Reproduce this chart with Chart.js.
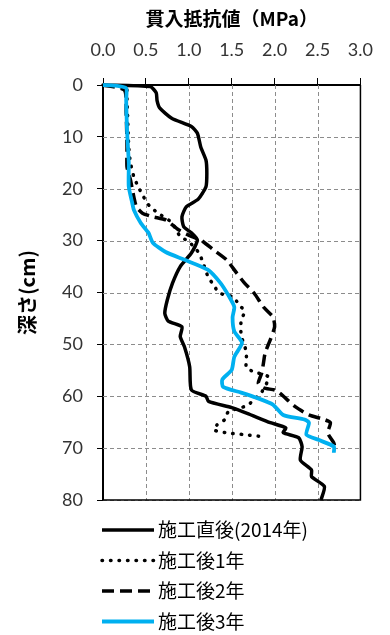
<!DOCTYPE html>
<html>
<head>
<meta charset="utf-8">
<script src="https://cdn.jsdelivr.net/npm/chart.js@4"></script>
<style>
  html, body { margin: 0; padding: 0; background: #fff; }
  canvas { display: block; }
</style>
</head>
<body>
<canvas id="chart" width="390" height="635"></canvas>
<script>
// 施工直後(2014年)
const depth0 = [0, 0.3, 1.5, 3, 4.4, 6.4, 8, 9.3, 12, 14.5, 17, 19.6, 22, 23.5, 25.4, 27.3, 28.5, 29.9, 32.4, 35, 38.2, 41.4, 44, 45.5, 46.6, 48.5, 50.5, 54.3, 58.8, 60, 61, 62.2, 63.3, 65.1, 66.1, 67, 68, 69.7, 72.3, 74.2, 75.5, 77.4, 80];
const mpa0 = [0, 0.55, 0.62, 0.63, 0.66, 0.8, 1.03, 1.1, 1.14, 1.2, 1.21, 1.2, 1.11, 0.97, 0.92, 0.94, 1.03, 1.1, 1.03, 0.9, 0.81, 0.75, 0.72, 0.76, 0.92, 0.9, 0.95, 1.01, 1.03, 1.2, 1.23, 1.5, 1.68, 1.95, 2.13, 2.1, 2.28, 2.32, 2.3, 2.43, 2.43, 2.58, 2.54];

// 施工後1年
const depth1 = [0, 0.6, 2.9, 12, 15, 17.7, 19.6, 21.5, 23.5, 25, 26.5, 29.2, 30.2, 32.4, 34, 37.2, 38.5, 39.9, 40.5, 40.8, 42.4, 43.7, 45.3, 48.2, 51.4, 53, 54.5, 55.3, 56.3, 59.2, 60.5, 61.8, 63, 64.5, 65.5, 66.5, 67.1, 67.4, 67.8];
const mpa1 = [0, 0.27, 0.28, 0.3, 0.32, 0.36, 0.41, 0.47, 0.55, 0.67, 0.8, 0.9, 1.0, 1.12, 1.16, 1.23, 1.29, 1.34, 1.42, 1.51, 1.59, 1.65, 1.61, 1.61, 1.67, 1.67, 1.67, 1.76, 1.93, 1.85, 1.77, 1.68, 1.46, 1.42, 1.33, 1.29, 1.46, 1.65, 1.87];

// 施工後2年
const depth2 = [0, 1, 5.4, 12, 15.8, 18.3, 21.6, 23.5, 24.7, 25.4, 26, 27.9, 29.2, 29.9, 31.8, 33.7, 36.3, 38.2, 40.1, 42.8, 44.7, 46.6, 49.1, 51.6, 53.6, 55.5, 57.5, 58.4, 58.8, 59.4, 62, 63.6, 64.5, 65.1, 67.1, 69, 69.7];
const mpa2 = [0, 0.25, 0.27, 0.28, 0.28, 0.32, 0.36, 0.39, 0.46, 0.58, 0.73, 0.88, 1.03, 1.14, 1.29, 1.44, 1.56, 1.65, 1.76, 1.87, 1.98, 2.0, 1.95, 1.89, 1.87, 1.85, 1.81, 1.87, 2.0, 2.06, 2.24, 2.4, 2.58, 2.65, 2.62, 2.69, 2.7];

// 施工後3年
const depth3 = [0, 0.1, 0.6, 2.9, 8.7, 15, 19.6, 22.7, 24.1, 26.6, 28.5, 30.4, 32.2, 33.7, 35.6, 38.2, 40.8, 42.8, 44.8, 47.5, 49.7, 52.4, 54.9, 56.8, 58.2, 59.3, 60.3, 61.6, 63.6, 64.5, 65.1, 67.4, 68.4, 69.7, 70.9];
const mpa3 = [0, 0.13, 0.27, 0.27, 0.28, 0.3, 0.3, 0.34, 0.36, 0.44, 0.53, 0.58, 0.73, 0.95, 1.22, 1.37, 1.47, 1.53, 1.51, 1.53, 1.62, 1.53, 1.5, 1.39, 1.4, 1.61, 1.79, 1.98, 2.1, 2.35, 2.4, 2.37, 2.51, 2.69, 2.69];

const seriesNames = ["施工直後(2014年)", "施工後1年", "施工後2年", "施工後3年"];

const pts = (xs, ys) => xs.map((x, i) => ({ x: x, y: ys[i] }));

const CJK = "'Noto Sans CJK JP', 'Noto Sans', sans-serif";

// dashed grey grid, placed from the scales' own ticks
const gridPlugin = {
  id: "dashgrid",
  beforeDatasetsDraw(chart) {
    const { ctx, chartArea: a, scales } = chart;
    ctx.save();
    ctx.strokeStyle = "#8c8c8c";
    ctx.lineWidth = 1;
    ctx.setLineDash([4, 3]);
    scales.x.ticks.forEach((t) => {
      const px = Math.round(scales.x.getPixelForValue(t.value)) + 0.5;
      if (px < a.left + 2) return;
      ctx.beginPath();
      ctx.moveTo(px, a.top);
      ctx.lineTo(px, a.bottom);
      ctx.stroke();
    });
    scales.y.ticks.forEach((t) => {
      const py = Math.round(scales.y.getPixelForValue(t.value)) + 0.5;
      if (py < a.top + 2) return;
      ctx.beginPath();
      ctx.moveTo(a.left, py);
      ctx.lineTo(a.right, py);
      ctx.stroke();
    });
    ctx.restore();
  },
};

// frame round the plot area
const framePlugin = {
  id: "frame",
  afterDraw(chart) {
    const { ctx, chartArea: a } = chart;
    ctx.save();
    ctx.strokeStyle = "#000";
    ctx.lineWidth = 1.5;
    ctx.beginPath();
    ctx.moveTo(a.right, a.top);
    ctx.lineTo(a.right, a.bottom);
    ctx.lineTo(a.left, a.bottom);
    ctx.stroke();
    ctx.restore();
  },
};

// vertical legend under the chart
const legendPlugin = {
  id: "vlegend",
  afterDraw(chart) {
    const ctx = chart.ctx;
    ctx.save();
    chart.data.datasets.forEach((ds, i) => {
      const y = 530 + i * 30.5;
      ctx.strokeStyle = ds.borderColor;
      ctx.lineWidth = ds.borderWidth;
      ctx.lineCap = ds.borderCapStyle || "butt";
      ctx.setLineDash(ds.borderDash || []);
      ctx.beginPath();
      ctx.moveTo(102, y);
      ctx.lineTo(154, y);
      ctx.stroke();
      ctx.setLineDash([]);
      ctx.fillStyle = "#000";
      ctx.font = "19px " + CJK;
      ctx.textBaseline = "middle";
      ctx.fillText(ds.label, 158, y);
    });
    ctx.restore();
  },
};

const gridOpts = (len) => ({
  display: true,
  drawOnChartArea: false,
  tickColor: "#000",
  tickLength: len,
  tickWidth: 1,
});

new Chart(document.getElementById("chart"), {
  type: "scatter",
  data: {
    datasets: [
      {
        label: seriesNames[0],
        data: pts(mpa0, depth0),
        borderColor: "#000",
        borderWidth: 3.5,
        order: 4,
      },
      {
        label: seriesNames[1],
        data: pts(mpa1, depth1),
        borderColor: "#000",
        borderWidth: 3.5,
        borderDash: [0.5, 8],
        borderCapStyle: "round",
        order: 3,
      },
      {
        label: seriesNames[2],
        data: pts(mpa2, depth2),
        borderColor: "#000",
        borderWidth: 3.5,
        borderDash: [12, 6],
        order: 2,
      },
      {
        label: seriesNames[3],
        data: pts(mpa3, depth3),
        borderColor: "#00B0F0",
        borderWidth: 3.8,
        order: 1,
      },
    ].map((d) => Object.assign({ showLine: true, pointRadius: 0, tension: 0.2, clip: 4, fill: false }, d)),
  },
  options: {
    responsive: false,
    animation: false,
    devicePixelRatio: 1,
    layout: { padding: { left: 0, top: 0, right: 19, bottom: 135 } },
    plugins: {
      legend: { display: false },
      tooltip: { enabled: false },
    },
    scales: {
      x: {
        type: "linear",
        position: "top",
        min: 0,
        max: 3,
        afterFit: (s) => { s.height = 85; },
        ticks: {
          stepSize: 0.5,
          callback: (v) => v.toFixed(1),
          font: { family: "Lato", size: 18 },
          color: "#333",
          padding: 17,
          maxRotation: 0,
        },
        grid: gridOpts(7),
        border: { display: true, color: "#000", width: 2 },
        title: {
          display: true,
          text: "貫入抵抗値（MPa）",
          font: { family: CJK, size: 19, weight: "bold" },
          color: "#000",
          padding: { top: 7, bottom: 0 },
        },
      },
      y: {
        type: "linear",
        reverse: true,
        min: 0,
        max: 80,
        afterFit: (s) => { s.width = 103; },
        ticks: {
          stepSize: 10,
          font: { family: "Lato", size: 18 },
          color: "#333",
          padding: 14,
        },
        grid: gridOpts(6),
        border: { display: true, color: "#000", width: 2 },
        title: {
          display: true,
          text: "深さ(cm)",
          font: { family: CJK, size: 20, weight: "bold" },
          color: "#000",
          padding: { top: 15, bottom: 0 },
        },
      },
    },
  },
  plugins: [gridPlugin, framePlugin, legendPlugin],
});
</script>
</body>
</html>
